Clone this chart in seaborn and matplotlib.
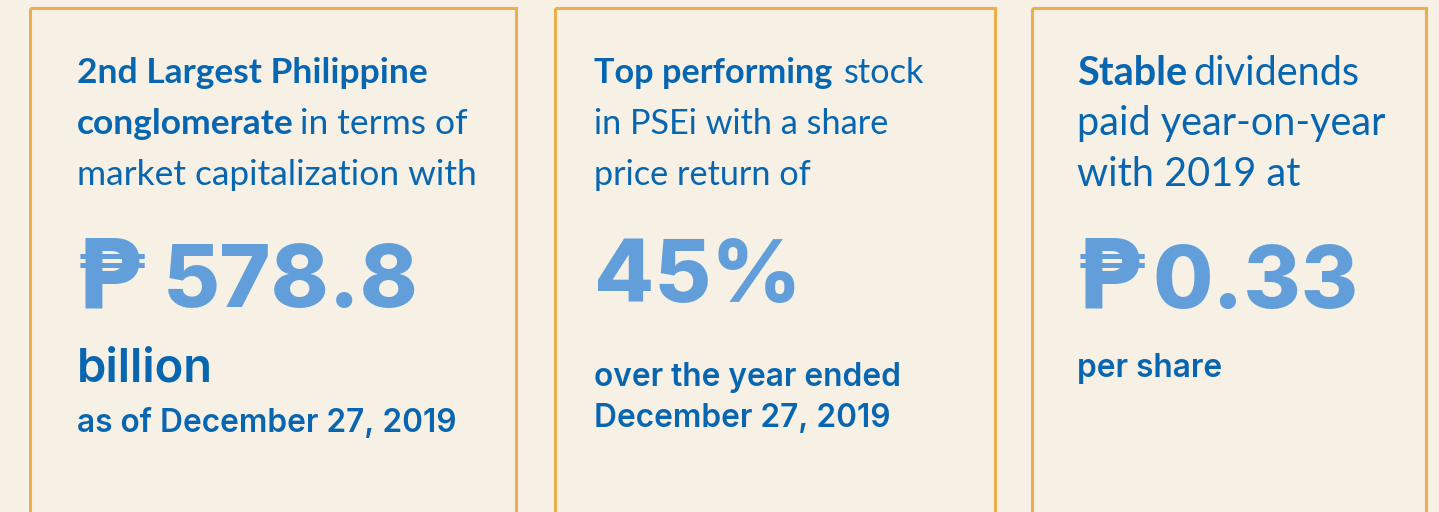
import matplotlib
matplotlib.use("Agg")
import matplotlib.pyplot as plt
import seaborn as sns
from matplotlib.patches import Rectangle

# card content
headline_bold = ["2nd Largest Philippine|conglomerate", "Top performing", "Stable"]
headline_rest = ["in terms of|market capitalization with", "stock|in PSEi with a share|price return of",
                 "dividends|paid year-on-year|with 2019 at"]
big_prefix = ["\u20b1", "", "\u20b1"]
big_value = ["578.8", "45%", "0.33"]
sub_large = ["billion", "", ""]
sub_text = ["as of December 27, 2019", "over the year ended|December 27, 2019", "per share"]

BG = "#F6F0E5"
BORDER = "#EBB04C"
DARK = "#0866B1"
LIGHT = "#629FDA"

sns.set_theme(style="white", rc={"figure.facecolor": BG, "axes.facecolor": BG})

fig = plt.figure(figsize=(14.39, 5.12), dpi=100)
ax = fig.add_axes([0, 0, 1, 1])
ax.set_xlim(0, 1439)
ax.set_ylim(512, 0)
ax.axis("off")
renderer = fig.canvas.get_renderer()

card_left = [30, 555, 1032]
card_right = [516, 995, 1426]
text_left = [77, 594, 1077]
head_size = [25.5, 24.7, 28.5]
head_gap = [6, 11, 6]


def draw_runs(x, y, runs, gap=0):
    # place text pieces one after another on the same baseline
    for txt, props in runs:
        if txt == "":
            continue
        t = ax.text(x, y, txt, ha="left", va="baseline", **props)
        bb = t.get_window_extent(renderer)
        x += bb.width + gap
    return x


for i in range(3):
    ax.add_patch(Rectangle((card_left[i], 8), card_right[i] - card_left[i], 520,
                           fill=False, edgecolor=BORDER, linewidth=2.2))

    body = dict(family=["Lato", "DejaVu Sans"], fontsize=head_size[i], color=DARK)

    # headline: bold lines then regular continuation
    bold_lines = headline_bold[i].split("|")
    rest_lines = headline_rest[i].split("|")
    base = [83, 134, 185] if i < 2 else [85, 135, 186]
    line = 0
    for j, bl in enumerate(bold_lines):
        runs = [(bl, dict(body, fontweight="bold"))]
        if j == len(bold_lines) - 1:
            runs.append((rest_lines[0], dict(body, fontweight="normal")))
        draw_runs(text_left[i], base[line], runs, gap=head_gap[i])
        line += 1
    for rl in rest_lines[1:]:
        draw_runs(text_left[i], base[line], [(rl, dict(body, fontweight="normal"))])
        line += 1

    # big figure
    big_base = [307, 302, 308][i]
    big_runs = [(big_prefix[i], dict(family=["DejaVu Sans"], fontweight="bold", fontsize=70, color=LIGHT)),
                (big_value[i], dict(family=["Inter", "DejaVu Sans"], fontweight="heavy", fontsize=63, color=LIGHT))]
    draw_runs(text_left[i], big_base, big_runs, gap=[18, 0, 8][i])

    sub_font = dict(family=["Inter", "DejaVu Sans"], fontweight="semibold", color=DARK)
    if sub_large[i]:
        draw_runs(text_left[i], 382, [(sub_large[i], dict(sub_font, fontsize=34))])
        draw_runs(text_left[i], 432, [(sub_text[i], dict(sub_font, fontsize=22.8))])
    else:
        ys = [386, 427] if i == 1 else [377]
        for y, s in zip(ys, sub_text[i].split("|")):
            draw_runs(text_left[i], y, [(s, dict(sub_font, fontsize=22.8))])

fig.savefig("out.png", dpi=100, facecolor=BG)
